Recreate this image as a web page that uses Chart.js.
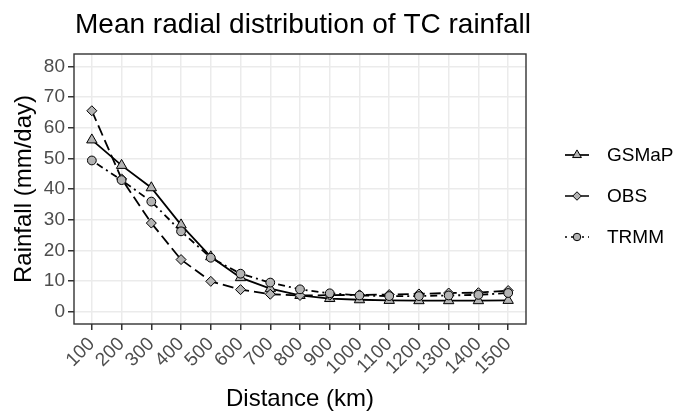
<!DOCTYPE html>
<html>
<head>
<meta charset="utf-8">
<title>Mean radial distribution of TC rainfall</title>
<script src="https://cdn.jsdelivr.net/npm/chart.js@4.4.0/dist/chart.umd.min.js"></script>
<style>
  html, body { margin: 0; padding: 0; background: #ffffff; }
  #wrap { width: 679px; height: 414px; position: relative; }
</style>
</head>
<body>
<div id="wrap"><canvas id="grafico"></canvas></div>
<script>
// Distância ao centro do ciclone (km)
const distancias = [100, 200, 300, 400, 500, 600, 700, 800, 900, 1000, 1100, 1200, 1300, 1400, 1500];

// Chuva média (mm/dia) por fonte
const gsmap = [56, 47.7, 40.4, 28.3, 17.9, 11.1, 7.5, 5.3, 4.3, 3.9, 3.7, 3.6, 3.6, 3.6, 3.7];
const obs   = [65.5, 43.3, 28.9, 17, 9.9, 7.2, 5.7, 5.3, 5.4, 5.5, 5.6, 5.8, 6.1, 6.2, 6.9];
const trmm  = [49.3, 42.9, 35.9, 26.2, 17.6, 12.4, 9.5, 7.3, 6, 5.3, 5.1, 5.1, 5.3, 5.5, 6.1];

// Marcas do eixo Y (a cada 5, com rótulo a cada 10)
const marcasY = [0, 5, 10, 15, 20, 25, 30, 35, 40, 45, 50, 55, 60, 65, 70, 75, 80];

const titulo = 'Mean radial distribution of TC rainfall';
const FONTE = '"Liberation Sans", Arial, Helvetica, sans-serif';
const CINZA_PONTO = '#b3b3b3';

Chart.defaults.font.family = FONTE;

const pares = (valores) => distancias.map((d, i) => ({ x: d, y: valores[i] }));

const series = [
    { label: 'GSMaP', data: pares(gsmap), pointStyle: 'triangle', pointRadius: 6, borderDash: [], order: 3 },
    { label: 'OBS', data: pares(obs), pointStyle: 'rectRot', pointRadius: 5, borderDash: [11, 5], order: 2 },
    { label: 'TRMM', data: pares(trmm), pointStyle: 'circle', pointRadius: 4.4, borderDash: [2, 4, 7, 4], order: 1 }
];

// Desenha um marcador igual ao do Chart.js (usado na legenda)
function desenharMarcador(ctx, estilo, x, y, r) {
    ctx.beginPath();
    if (estilo === 'triangle') {
        for (let k = 0; k < 3; k++) {
            const a = k * 2 * Math.PI / 3;
            const px = x + Math.sin(a) * r;
            const py = y - Math.cos(a) * r;
            if (k === 0) ctx.moveTo(px, py); else ctx.lineTo(px, py);
        }
        ctx.closePath();
    } else if (estilo === 'rectRot') {
        ctx.moveTo(x, y - r);
        ctx.lineTo(x + r, y);
        ctx.lineTo(x, y + r);
        ctx.lineTo(x - r, y);
        ctx.closePath();
    } else {
        ctx.arc(x, y, r, 0, Math.PI * 2);
    }
    ctx.fill();
    ctx.stroke();
}

// Moldura do painel, título e legenda à direita
const moldura = {
    id: 'moldura',
    afterDraw(chart) {
        const { ctx, chartArea: a } = chart;
        ctx.save();
        ctx.strokeStyle = '#333333';
        ctx.lineWidth = 1.4;
        ctx.setLineDash([]);
        ctx.strokeRect(a.left, a.top, a.right - a.left, a.bottom - a.top);

        ctx.fillStyle = '#000000';
        ctx.font = '28px ' + FONTE;
        ctx.textAlign = 'left';
        ctx.textBaseline = 'alphabetic';
        ctx.fillText(titulo, 75, 33);

        chart.data.datasets.forEach((ds, i) => {
            const y = 155 + i * 41;
            ctx.strokeStyle = '#000000';
            ctx.lineWidth = 1.7;
            ctx.setLineDash(ds.borderDash);
            ctx.beginPath();
            ctx.moveTo(565, y);
            ctx.lineTo(589, y);
            ctx.stroke();
            ctx.setLineDash([]);
            ctx.lineWidth = 1;
            ctx.fillStyle = CINZA_PONTO;
            desenharMarcador(ctx, ds.pointStyle, 577, y, ds.pointRadius * 0.85);
            ctx.fillStyle = '#000000';
            ctx.font = '19px ' + FONTE;
            ctx.textBaseline = 'middle';
            ctx.fillText(ds.label, 607, y + 1);
        });
        ctx.restore();
    }
};

new Chart(document.getElementById('grafico'), {
    type: 'line',
    data: {
        datasets: series.map(s => ({
            ...s,
            borderColor: '#000000',
            borderWidth: 1.8,
            backgroundColor: CINZA_PONTO,
            pointBackgroundColor: CINZA_PONTO,
            pointBorderColor: '#000000',
            pointBorderWidth: 1,
            fill: false,
            tension: 0
        }))
    },
    options: {
        responsive: true,
        maintainAspectRatio: false,
        animation: false,
        devicePixelRatio: 1,
        layout: { padding: { top: 54, right: 153, bottom: 0, left: 0 } },
        plugins: {
            legend: { display: false },
            title: { display: false },
            tooltip: { enabled: false }
        },
        scales: {
            x: {
                type: 'linear',
                min: 40,
                max: 1560,
                afterBuildTicks: (eixo) => { eixo.ticks = distancias.map(v => ({ value: v })); },
                afterFit: (eixo) => { eixo.height = 90; },
                border: { display: false },
                grid: { color: '#ebebeb', lineWidth: 1.5, tickColor: '#333333', tickLength: 6 },
                ticks: {
                    autoSkip: false,
                    minRotation: 45,
                    maxRotation: 45,
                    padding: 3,
                    color: '#4d4d4d',
                    font: { size: 19 },
                    callback: (v) => String(v)
                },
                title: {
                    display: true,
                    text: 'Distance (km)',
                    color: '#000000',
                    font: { size: 24 },
                    padding: { top: 0, bottom: 0 }
                }
            },
            y: {
                type: 'linear',
                min: -4,
                max: 84,
                afterBuildTicks: (eixo) => { eixo.ticks = marcasY.map(v => ({ value: v })); },
                afterFit: (eixo) => { eixo.width = 74; },
                border: { display: false },
                grid: {
                    color: '#ebebeb',
                    lineWidth: (c) => (c.tick && c.tick.value % 10 === 0 ? 1.5 : 0.8),
                    tickColor: (c) => (c.tick && c.tick.value % 10 === 0 ? '#333333' : 'rgba(0,0,0,0)'),
                    tickLength: 6
                },
                ticks: {
                    padding: 3,
                    color: '#4d4d4d',
                    font: { size: 19 },
                    callback: (v) => (v % 10 === 0 ? String(v) : '')
                },
                title: {
                    display: true,
                    text: 'Rainfall (mm/day)',
                    color: '#000000',
                    font: { size: 24 },
                    padding: { top: 10, bottom: 0 }
                }
            }
        }
    },
    plugins: [moldura]
});
</script>
</body>
</html>
